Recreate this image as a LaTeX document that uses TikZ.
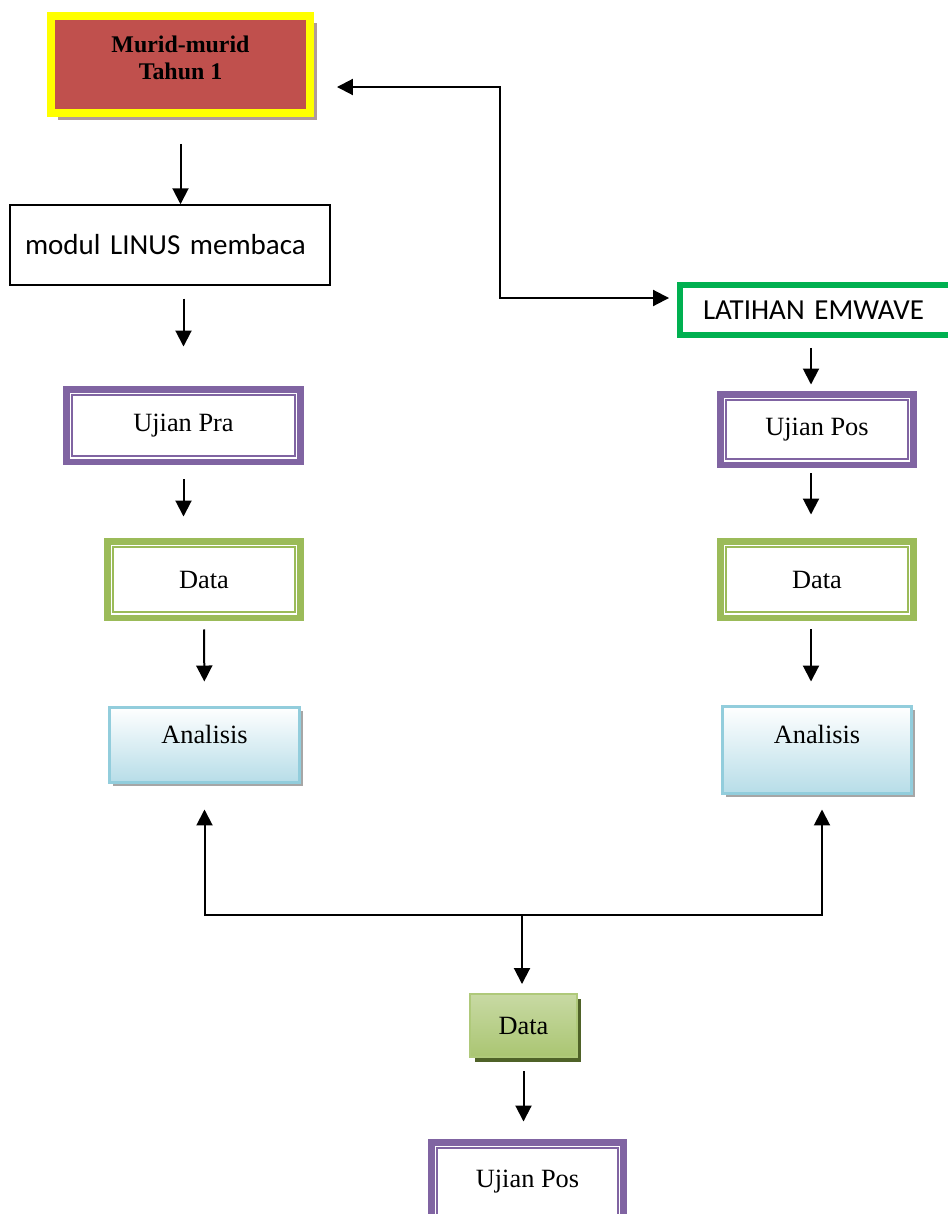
\documentclass[tikz,border=0pt]{standalone}
\usepackage{fontspec}
\setmainfont{Liberation Serif}
\newfontfamily\calibri{Carlito}
\usetikzlibrary{arrows.meta}
\usetikzlibrary{shadows}
\definecolor{ungu}{HTML}{8064A2}
\definecolor{hijaudata}{HTML}{9BBB59}
\definecolor{merah}{HTML}{C0504D}
\definecolor{kuning}{HTML}{FFFF00}
\definecolor{hijauterang}{HTML}{00B050}
\definecolor{birusempadan}{HTML}{92CDDC}
\definecolor{biruisi}{HTML}{B7DDE8}
\definecolor{hijautua}{HTML}{4F6228}
\definecolor{abuperang}{HTML}{B09A9A}
\tikzset{
    panah/.style = {-{Triangle[length=0.32cm,width=0.32cm]}, line width=0.04cm},
    panahdua/.style = {{Triangle[length=0.32cm,width=0.32cm]}-{Triangle[length=0.32cm,width=0.32cm]}, line width=0.04cm},
    murid/.style = {rectangle, draw=kuning, line width=0.16cm, fill=merah, align=center,
        font=\bfseries\fontsize{13.6}{15.5}\selectfont,
        drop shadow={shadow xshift=0.14cm, shadow yshift=-0.14cm, fill=abuperang, opacity=1}},
    kotak/.style = {rectangle, draw=black, line width=0.03cm, align=left, inner xsep=0.3cm,
        font=\calibri\fontsize{16.5}{19}\selectfont},
    latihan/.style = {rectangle, draw=hijauterang, line width=0.12cm, align=left, inner xsep=0.46cm,
        font=\calibri\fontsize{16.5}{19}\selectfont},
    bingkai/.style = {rectangle, draw=#1, line width=0.14cm, fill=white,
        font=\fontsize{15}{18}\selectfont,
        path picture={\draw[#1, line width=0.04cm]
            ([shift={(0.12cm,0.12cm)}]path picture bounding box.south west) rectangle
            ([shift={(-0.12cm,-0.12cm)}]path picture bounding box.north east);}},
    analisis/.style = {rectangle, draw=birusempadan, line width=0.06cm, inner ysep=0pt,
        top color=white, bottom color=biruisi, font=\fontsize{15}{18}\selectfont,
        drop shadow={shadow xshift=0.07cm, shadow yshift=-0.07cm, fill=black!35, opacity=1}},
    databawah/.style = {rectangle, draw=hijaudata!80, line width=0.04cm,
        top color=hijaudata!55, bottom color=hijaudata!85, font=\fontsize{15}{18}\selectfont,
        drop shadow={shadow xshift=0.09cm, shadow yshift=-0.09cm, fill=hijautua, opacity=1}}
}

\begin{document}
\begin{tikzpicture}[x=0.02cm, y=-0.02cm]
\useasboundingbox (0,0) rectangle (947,1214);
% lajur kiri
\node[murid, minimum width=5.18cm, minimum height=1.94cm] at (180.5,64.5) (murid) {Murid-murid\\Tahun 1\\[-8pt]\mbox{}};
\node[kotak, minimum height=1.6cm, text width=5.8cm] at (170,245) (modul) {modul LINUS membaca};
\node[bingkai=ungu, minimum width=4.7cm, minimum height=1.46cm] at (183.5,425.5) (pra) {Ujian Pra};
\node[bingkai=hijaudata, minimum width=3.88cm, minimum height=1.54cm] at (204,579.5) (datakiri) {Data};
\node[analisis, minimum width=3.82cm, text height=0.73cm, text depth=0.77cm] at (204.5,744.5) (anakiri) {Analisis};
% lajur kanan
\node[latihan, minimum height=1.0cm, text width=5.48cm] at (840,310) (latihan) {LATIHAN EMWAVE};
\node[bingkai=ungu, minimum width=3.88cm, minimum height=1.42cm] at (817,429.5) (posk) {Ujian Pos};
\node[bingkai=hijaudata, minimum width=3.88cm, minimum height=1.54cm] at (817,579.5) (datak) {Data};
\node[analisis, minimum width=3.8cm, text height=0.75cm, text depth=0.99cm] at (817,749.5) (anakanan) {Analisis};
% bawah
\coordinate (split) at (522,915);
\node[databawah, minimum width=2.14cm, minimum height=1.26cm] at (523.5,1025.5) (datab) {Data};
\node[bingkai=ungu, minimum width=3.86cm, minimum height=1.6cm] at (527.5,1182) (ujibawah) {Ujian Pos};
%
\coordinate (siku1) at (500,87);
\coordinate (siku2) at (500,298);
\draw[panahdua, shorten <=0.46cm, shorten >=0.16cm] (murid.east |- siku1) -- (siku1) -- (siku2) -- (siku2 -| latihan.west);
%
\draw[panah, shorten <=0.54cm] (murid.south) -- (murid.south |- modul.north);
\draw[panah, shorten <=0.26cm, shorten >=0.78cm] (modul.south -| pra.north) -- (pra.north);
\draw[panah, shorten <=0.28cm, shorten >=0.42cm] (pra.south) -- (pra.south |- datakiri.north);
\draw[panah, shorten <=0.16cm, shorten >=0.48cm] (datakiri.south) -- (anakiri.north);
%
\draw[panah, shorten <=0.2cm, shorten >=0.12cm] ([xshift=-0.12cm]posk.north |- latihan.south) -- ([xshift=-0.12cm]posk.north);
\draw[panah, shorten <=0.1cm, shorten >=0.46cm] ([xshift=-0.12cm]posk.south) -- ([xshift=-0.12cm]datak.north);
\draw[panah, shorten <=0.16cm, shorten >=0.46cm] ([xshift=-0.12cm]datak.south) -- ([xshift=-0.12cm]anakanan.north);
%
\draw[panah, shorten >=0.52cm] (split) -| (anakiri.south);
\draw[panah, shorten >=0.3cm] (split) -| ([xshift=0.1cm]anakanan.south);
\draw[panah, shorten >=0.18cm] (split) -- (split |- datab.north);
\draw[panah, shorten <=0.26cm, shorten >=0.34cm] (datab.south) -- (datab.south |- ujibawah.north);
\end{tikzpicture}
\end{document}
